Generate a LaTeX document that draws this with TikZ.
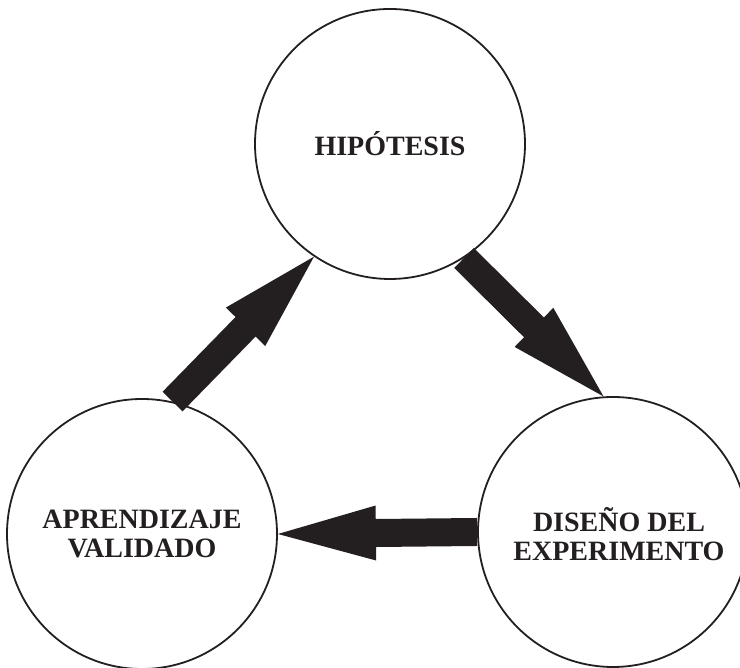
\documentclass[tikz,border=0pt]{standalone}
\usepackage{fontspec}
\setmainfont{Liberation Serif}
\usetikzlibrary{calc}
\definecolor{ink}{HTML}{231F20}
\tikzset{
  stage/.style={circle, draw=ink, line width=1.8pt, minimum size=270pt, inner sep=0pt,
    text=ink, align=center, font=\fontsize{28}{29}\selectfont\bfseries},
  fatfill/.style={fill=ink, draw=none}
}
\newcommand\fatarrow[2]{%
  \coordinate (hb) at ($(#2)!98pt!(#1)$);
  \path[fatfill] ($(#1)!14pt!90:(#2)$) -- ($(hb)!14pt!90:(#2)$) -- ($(hb)!27.5pt!90:(#2)$)
    -- (#2) -- ($(hb)!27.5pt!-90:(#2)$) -- ($(hb)!14pt!-90:(#2)$) -- ($(#1)!14pt!-90:(#2)$) -- cycle;}
\begin{document}
\begin{tikzpicture}[x=1pt,y=1pt]
\clip (0,0) rectangle (740,668);
\node[stage] (T) at (390,524) {HIPÓTESIS};
\node[stage] (L) at (142,134) {APRENDIZAJE\\VALIDADO};
\node[stage] (R) at (613,136) {};
\node[text=ink, align=center, font=\fontsize{28}{29}\selectfont\bfseries] (Rt) at (619,134) {DISEÑO DEL\\EXPERIMENTO};
\coordinate (a1) at (L.77);
\coordinate (b1) at (T.236);
\coordinate (a2) at (T.303);
\coordinate (b2) at (R.94);
\coordinate (a3) at (R.180);
\coordinate (b3) at (L.0);
\fatarrow{a1}{b1}
\fatarrow{a2}{b2}
\fatarrow{a3}{b3}
\end{tikzpicture}
\end{document}
